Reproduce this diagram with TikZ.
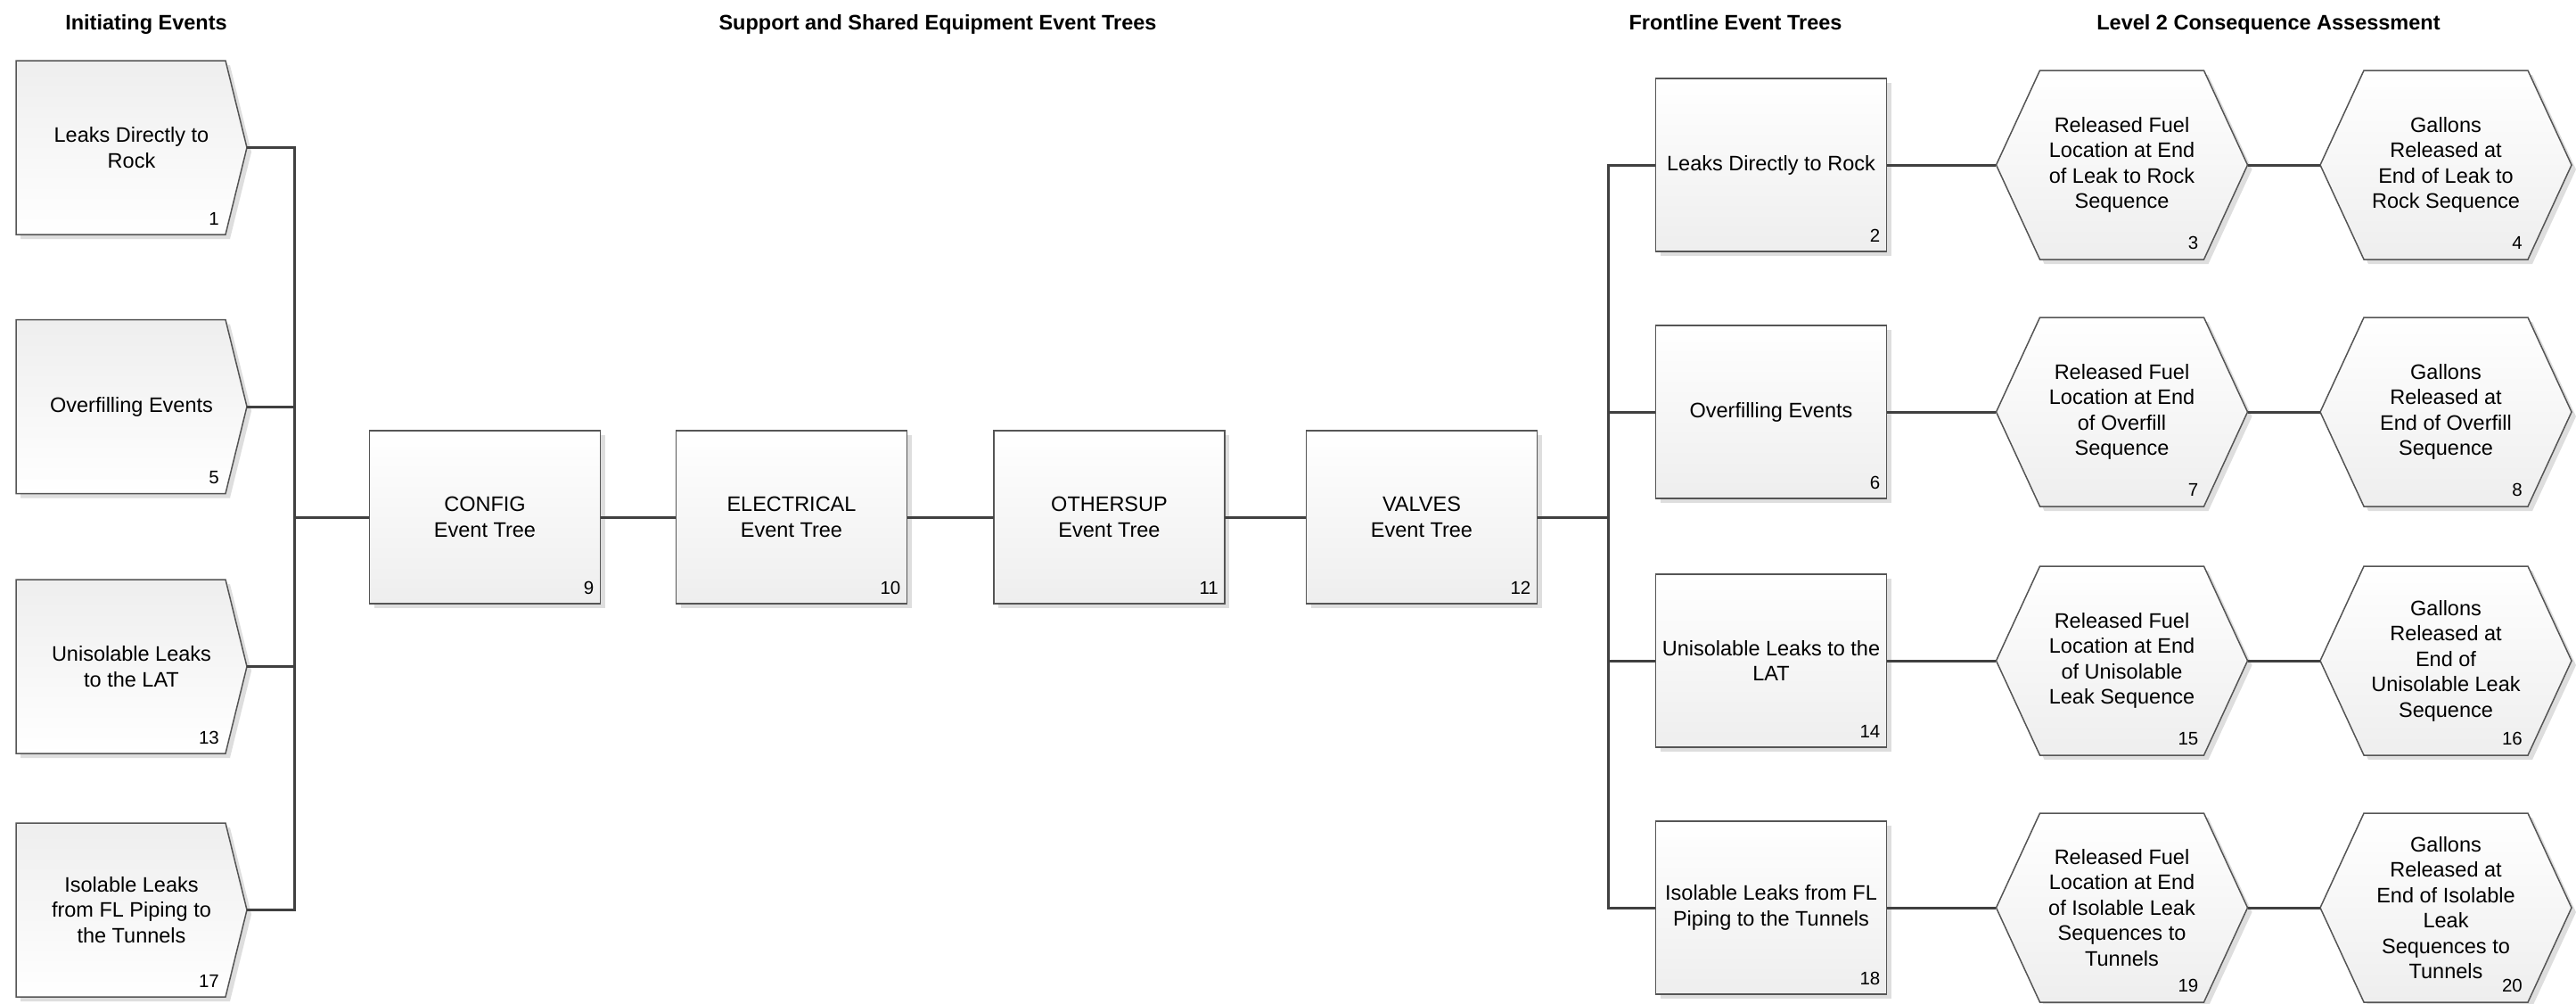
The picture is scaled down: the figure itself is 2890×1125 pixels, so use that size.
\documentclass[tikz,border=0pt]{standalone}
\usepackage{fontspec}
\setmainfont{Liberation Sans}
\usetikzlibrary{calc}

\definecolor{edgegray}{HTML}{555555}
\definecolor{wiregray}{HTML}{404040}
\definecolor{shadowgray}{HTML}{DEDEDE}
\definecolor{fillhi}{HTML}{FFFFFF}
\definecolor{filllo}{HTML}{EEEEEE}

\tikzset{
  wire/.style={draw=wiregray, line width=3pt},
  outline/.style={draw=edgegray, line width=1.5pt, line join=miter},
  dropshadow/.style={fill=shadowgray},
  txt/.style={align=center, inner sep=0pt, font=\fontsize{23.5}{28.5}\selectfont},
  hdr/.style={anchor=base, inner sep=0pt, font=\bfseries\fontsize{23.5}{28}\selectfont},
  numtag/.style={anchor=base east, inner sep=0pt, font=\fontsize{20.5}{24}\selectfont},
}

% initiating event: pentagon pointing right (name, cx, cy, text, number)
\newcommand\initevent[5]{%
  \begin{scope}[shift={(#2,#3)}]
    \path[dropshadow] (-124.5,-92.5) -- (110.5,-92.5) -- (134.5,5) -- (110.5,102.5) -- (-124.5,102.5) -- cycle;
    \shadedraw[outline, top color=filllo, bottom color=fillhi]
      (-129.5,-97.5) -- (105.5,-97.5) -- (129.5,0) -- (105.5,97.5) -- (-129.5,97.5) -- cycle;
    \node[numtag] at (98.5,86.5) {#5};
  \end{scope}
  \node[txt, minimum width=259pt, minimum height=195pt] (#1) at (#2,#3) {#4};
}

% event tree: plain box (name, cx, cy, text, number)
\newcommand\treebox[5]{%
  \begin{scope}[shift={(#2,#3)}]
    \path[dropshadow] (-124.5,-92) rectangle (134.5,102);
    \shadedraw[outline, top color=fillhi, bottom color=filllo] (-129.5,-97) rectangle (129.5,97);
    \node[numtag] at (122.5,86) {#5};
  \end{scope}
  \node[txt, minimum width=259pt, minimum height=194pt] (#1) at (#2,#3) {#4};
}

% consequence: hexagon (name, cx, cy, text, number)
\newcommand\consequence[5]{%
  \begin{scope}[shift={(#2,#3)}]
    \path[dropshadow] (-136,5) -- (-87,-101) -- (97,-101) -- (146,5) -- (97,111) -- (-87,111) -- cycle;
    \shadedraw[outline, top color=fillhi, bottom color=filllo]
      (-141,0) -- (-92,-106) -- (92,-106) -- (141,0) -- (92,106) -- (-92,106) -- cycle;
    \node[numtag] at (86,94) {#5};
  \end{scope}
  \node[txt, minimum width=282pt, minimum height=212pt] (#1) at (#2,#3) {#4};
}

\begin{document}
\begin{tikzpicture}[x=1pt, y=-1pt]
  \useasboundingbox (0,0) rectangle (2890,1125);

  % column headings
  \node[hdr] (h1) at (164,33) {Initiating Events};
  \node[hdr] (h2) at (1052,33) {Support and Shared Equipment Event Trees};
  \node[hdr] (h3) at (1947,33) {Frontline Event Trees};
  \node[hdr] (h4) at (2545,33) {Level 2 Consequence Assessment};

  % initiating events
  \initevent{ie1}{147.5}{165.5}{Leaks Directly to\\Rock}{1}
  \initevent{ie5}{147.5}{456}{Overfilling Events}{5}
  \initevent{ie13}{147.5}{747.5}{Unisolable Leaks\\to the LAT}{13}
  \initevent{ie17}{147.5}{1020.5}{Isolable Leaks\\from FL Piping to\\the Tunnels}{17}

  % support and shared equipment trees
  \treebox{cfg}{544}{580}{CONFIG\\Event Tree}{9}
  \treebox{ele}{888}{580}{ELECTRICAL\\Event Tree}{10}
  \treebox{oth}{1244.5}{580}{OTHERSUP\\Event Tree}{11}
  \treebox{val}{1595}{580}{VALVES\\Event Tree}{12}

  % frontline trees
  \treebox{fl2}{1987}{185}{Leaks Directly to Rock}{2}
  \treebox{fl6}{1987}{462}{Overfilling Events}{6}
  \treebox{fl14}{1987}{741}{Unisolable Leaks to the\\LAT}{14}
  \treebox{fl18}{1987}{1018}{Isolable Leaks from FL\\Piping to the Tunnels}{18}

  % level 2 consequence assessment
  \consequence{lc3}{2380.5}{185}{Released Fuel\\Location at End\\of Leak to Rock\\Sequence}{3}
  \consequence{gal4}{2744}{185}{Gallons\\Released at\\End of Leak to\\Rock Sequence}{4}
  \consequence{lc7}{2380.5}{462}{Released Fuel\\Location at End\\of Overfill\\Sequence}{7}
  \consequence{gal8}{2744}{462}{Gallons\\Released at\\End of Overfill\\Sequence}{8}
  \consequence{lc15}{2380.5}{741}{Released Fuel\\Location at End\\of Unisolable\\Leak Sequence}{15}
  \consequence{gal16}{2744}{741}{Gallons\\Released at\\End of\\Unisolable Leak\\Sequence}{16}
  \consequence{lc19}{2380.5}{1018}{Released Fuel\\Location at End\\of Isolable Leak\\Sequences to\\Tunnels}{19}
  \consequence{gal20}{2744}{1018}{Gallons\\Released at\\End of Isolable\\Leak\\Sequences to\\Tunnels}{20}

  % bus joining the initiating events
  \coordinate (lbus) at (330,580);
  \foreach \n in {ie1,ie5,ie13,ie17}
    \draw[wire] (\n.east) -| (lbus);
  \draw[wire] (lbus) -- (cfg.west);

  % support chain
  \draw[wire] (cfg) -- (ele);
  \draw[wire] (ele) -- (oth);
  \draw[wire] (oth) -- (val);

  % bus feeding the frontline trees
  \coordinate (rbus) at (1804,580);
  \draw[wire] (val.east) -- (rbus);
  \foreach \n in {fl2,fl6,fl14,fl18}
    \draw[wire] (rbus) |- (\n.west);

  % frontline to consequence assessment
  \draw[wire] (fl2) -- (lc3);   \draw[wire] (lc3) -- (gal4);
  \draw[wire] (fl6) -- (lc7);   \draw[wire] (lc7) -- (gal8);
  \draw[wire] (fl14) -- (lc15); \draw[wire] (lc15) -- (gal16);
  \draw[wire] (fl18) -- (lc19); \draw[wire] (lc19) -- (gal20);
\end{tikzpicture}
\end{document}
